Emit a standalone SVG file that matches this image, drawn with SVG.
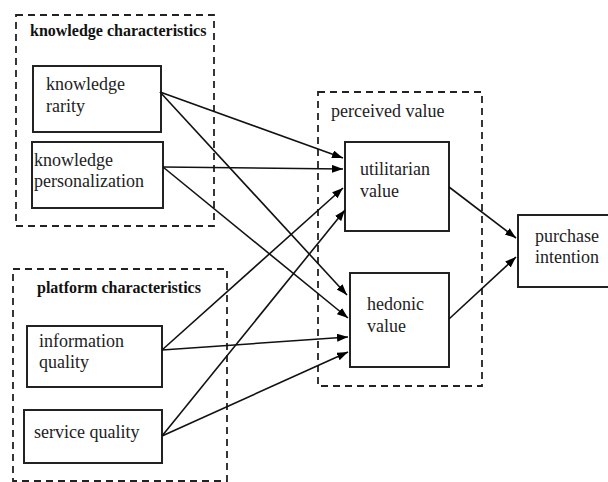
<svg xmlns="http://www.w3.org/2000/svg" width="608" height="482" viewBox="0 0 608 482">
<defs>
<marker id="arr" markerUnits="userSpaceOnUse" markerWidth="12" markerHeight="9" refX="11" refY="4" orient="auto">
<path d="M0,0 L11,4 L0,8 z" fill="#000"/>
</marker>
<style>
.grp{fill:none;stroke:#222;stroke-width:1.8;stroke-dasharray:7,5}
.box{fill:#fff;stroke:#222;stroke-width:2}
.t{font-family:'Liberation Serif',serif;font-size:18px;fill:#222}
.tb{font-family:'Liberation Serif',serif;font-size:16px;font-weight:bold;fill:#111}
.c{fill:none;stroke:#111;stroke-width:1.6;marker-end:url(#arr)}
</style>
</defs>
<rect width="608" height="482" fill="#fff"/>
<g id="knowledge-characteristics">
<rect class="grp" x="16" y="15" width="198" height="211"/>
<text class="tb" x="30" y="36" font-family="Liberation Serif">knowledge characteristics</text>
</g>
<g id="platform-characteristics">
<rect class="grp" x="13" y="269" width="214" height="212"/>
<text class="tb" x="37" y="293" font-family="Liberation Serif">platform characteristics</text>
</g>
<g id="perceived-value">
<rect class="grp" x="318" y="92" width="164" height="294"/>
<text class="t" x="331" y="117">perceived value</text>
</g>
<g id="knowledge-rarity">
<rect class="box" x="33" y="66" width="128" height="66"/>
<text class="t" x="46" y="90">knowledge</text>
<text class="t" x="46" y="112">rarity</text>
</g>
<g id="knowledge-personalization">
<rect class="box" x="32" y="142" width="131" height="66"/>
<text class="t" x="34" y="166">knowledge</text>
<text class="t" x="34" y="187">personalization</text>
</g>
<g id="information-quality">
<rect class="box" x="27" y="326" width="135" height="61"/>
<text class="t" x="39" y="347">information</text>
<text class="t" x="39" y="368">quality</text>
</g>
<g id="service-quality">
<rect class="box" x="24" y="410" width="138" height="53"/>
<text class="t" x="34" y="438">service quality</text>
</g>
<g id="utilitarian-value">
<rect class="box" x="345" y="142" width="104" height="89"/>
<text class="t" x="360" y="175">utilitarian</text>
<text class="t" x="360" y="197">value</text>
</g>
<g id="hedonic-value">
<rect class="box" x="350" y="273" width="99" height="94"/>
<text class="t" x="367" y="310">hedonic</text>
<text class="t" x="367" y="332">value</text>
</g>
<g id="purchase-intention">
<rect class="box" x="518" y="215" width="92" height="72"/>
<text class="t" x="535" y="242">purchase</text>
<text class="t" x="535" y="263">intention</text>
</g>
<g id="connectors">
<line class="c" x1="160" y1="92" x2="343" y2="158"/>
<line class="c" x1="160" y1="92" x2="347" y2="295"/>
<line class="c" x1="163" y1="167" x2="343" y2="169"/>
<line class="c" x1="163" y1="167" x2="348" y2="318"/>
<line class="c" x1="162" y1="350" x2="343" y2="188"/>
<line class="c" x1="162" y1="350" x2="348" y2="337"/>
<line class="c" x1="162" y1="436" x2="345" y2="210"/>
<line class="c" x1="162" y1="436" x2="348" y2="352"/>
<line class="c" x1="449" y1="187" x2="516" y2="238"/>
<line class="c" x1="449" y1="319" x2="516" y2="257"/>
</g>
</svg>
